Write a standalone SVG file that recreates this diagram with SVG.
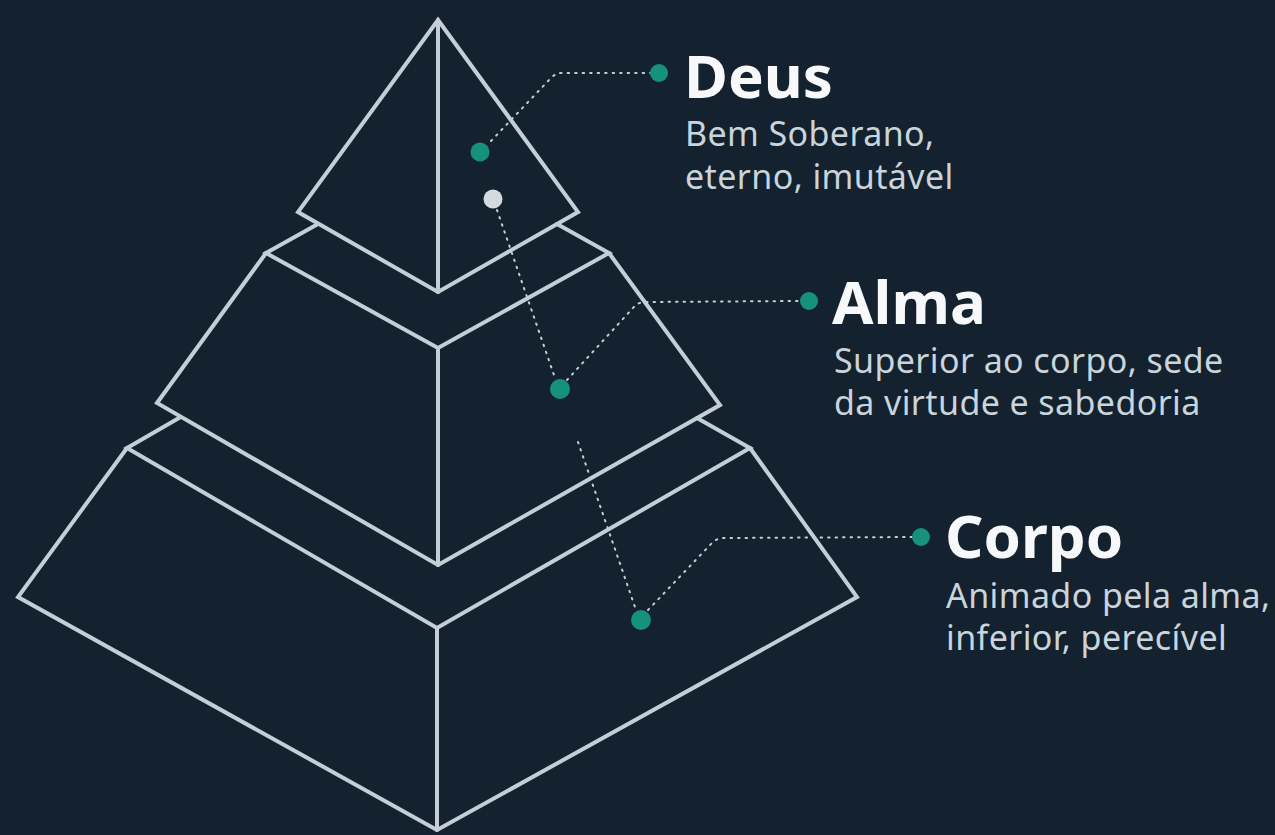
<svg xmlns="http://www.w3.org/2000/svg" width="1275" height="835" viewBox="0 0 1275 835">
<style>
.edge{fill:none;stroke:#c3ced6;stroke-width:4;stroke-linejoin:miter;stroke-linecap:round}
.dot{fill:none;stroke:#c3ced6;stroke-width:2;stroke-dasharray:1.5 6;stroke-linecap:round}
.g{fill:#16917c}
.h{font-family:"Noto Sans",sans-serif;font-weight:700;font-size:60px;fill:#f6f8f9}
.s{font-family:"Noto Sans",sans-serif;font-weight:400;font-size:34px;letter-spacing:0.4px;fill:#c9d4dc}
</style>
<rect width="1275" height="835" fill="#13222e"/>
<g id="tier-bottom">
<path class="edge" d="M127,448 L18,597 L437,830 L857,597 L750,448"/>
<path class="edge" d="M179,418 L127,448 L437,628 L750,448 L697,418"/>
<path class="edge" d="M437,628 L437,830"/>
</g>
<g id="tier-middle">
<path class="edge" d="M266,253 L157,403 L438,565 L720,405 L609,253"/>
<path class="edge" d="M318,224 L266,253 L438,348 L609,253 L557,224"/>
<path class="edge" d="M438,348 L438,565"/>
</g>
<g id="tier-top">
<path class="edge" d="M438,20 L298,212 L438,292 L578,212 Z"/>
<path class="edge" d="M438,20 L438,292"/>
</g>
<g id="connectors">
<path class="dot" d="M491,141 L550,79 Q555,73 562,73 L652,73"/>
<path class="dot" d="M497,210 L555,378"/>
<path class="dot" d="M567,380 L633,308 Q638,302 645,302 L800,301"/>
<path class="dot" d="M578,442 L636,610"/>
<path class="dot" d="M648,610 L712,543 Q717,538 724,538 L912,537"/>
</g>
<g id="deus">
<circle class="g" cx="480" cy="152" r="9.5"/>
<circle cx="493" cy="199" r="9.5" fill="#d4dbe0"/>
<circle class="g" cx="659" cy="73" r="9"/>
<text class="h" x="684" y="98">Deus</text>
<text class="s" x="685" y="146">Bem Soberano,</text>
<text class="s" x="685" y="189">eterno, imutável</text>
</g>
<g id="alma">
<circle class="g" cx="560" cy="389" r="10"/>
<circle class="g" cx="809" cy="301" r="9"/>
<text class="h" x="832" y="324">Alma</text>
<text class="s" x="834" y="373">Superior ao corpo, sede</text>
<text class="s" x="834" y="415">da virtude e sabedoria</text>
</g>
<g id="corpo">
<circle class="g" cx="641" cy="620" r="10"/>
<circle class="g" cx="921" cy="537" r="9"/>
<text class="h" x="945" y="558">Corpo</text>
<text class="s" x="946" y="608">Animado pela alma,</text>
<text class="s" x="946" y="650">inferior, perecível</text>
</g>
</svg>
